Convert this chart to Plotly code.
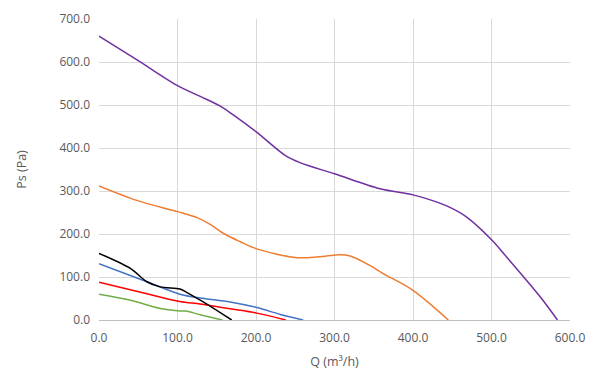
import plotly.graph_objects as go

# Data
purple_q = [0, 50, 100, 129, 154, 171, 200, 237, 256, 300, 358, 400, 426, 447, 468, 501, 519, 562, 584]
purple_ps = [660, 603, 545, 520, 498, 477, 438, 383, 366, 340, 305, 291, 277, 262, 240, 185, 147, 54, 0]

orange_q = [0, 50, 100, 125, 140, 160, 180, 200, 252, 280, 307, 320, 345, 362, 400, 445]
orange_ps = [312, 277, 252, 238, 224, 200, 182, 166, 145, 147, 152, 149, 127, 108, 69, 0]

blue_q = [0, 61, 103, 129, 167, 201, 231, 260]
blue_ps = [131, 89, 60, 51, 42, 29, 13, 0]

red_q = [0, 61, 103, 129, 167, 201, 238]
red_ps = [88, 61, 43, 37, 26, 16, 0]

green_q = [0, 40, 78, 103, 111, 129, 157]
green_ps = [60, 46, 27, 21, 21, 12, 0]

black_q = [0, 40, 61, 78, 103, 111, 129, 146, 169]
black_ps = [155, 120, 89, 77, 72, 65, 46, 27, 0]

x_ticks = [0, 100, 200, 300, 400, 500, 600]
y_ticks = [0, 100, 200, 300, 400, 500, 600, 700]

series = [
    (purple_q, purple_ps, "#7030A0"),
    (orange_q, orange_ps, "#ED7D31"),
    (blue_q, blue_ps, "#4472C4"),
    (red_q, red_ps, "#FF0000"),
    (green_q, green_ps, "#70AD47"),
    (black_q, black_ps, "#000000"),
]

fig = go.Figure()
for q, ps, col in series:
    fig.add_trace(go.Scatter(x=q, y=ps, mode="lines",
                             line=dict(color=col, width=1.5, shape="spline", smoothing=0.9),
                             showlegend=False, hoverinfo="skip"))

font_family = "Open Sans, DejaVu Sans, sans-serif"
# page body has an 8px default margin; size and margins compensate for it
fig.update_layout(
    width=588, height=364,
    margin=dict(l=91, r=26, t=11, b=52, autoexpand=False),
    paper_bgcolor="white", plot_bgcolor="white",
    font=dict(family=font_family, color="#595959", size=12),
    xaxis=dict(range=[0, 600], tickvals=x_ticks, tickformat=".1f", automargin=False,
               showgrid=True, gridcolor="#d9d9d9", gridwidth=1,
               zeroline=False, showline=True, linecolor="#bfbfbf", linewidth=1,
               ticks="", ticklabelstandoff=7,
               title=dict(text="Q (m³/h)", font=dict(size=12.5, color="#595959"), standoff=11)),
    yaxis=dict(range=[0, 700], tickvals=y_ticks, tickformat=".1f", automargin=False,
               showgrid=True, gridcolor="#d9d9d9", gridwidth=1,
               zeroline=False, showline=False, ticks="", ticklabelstandoff=8,
               title=dict(text="Ps (Pa)", font=dict(size=12.5, color="#595959"), standoff=30)),
)
fig.write_html("out.html")
